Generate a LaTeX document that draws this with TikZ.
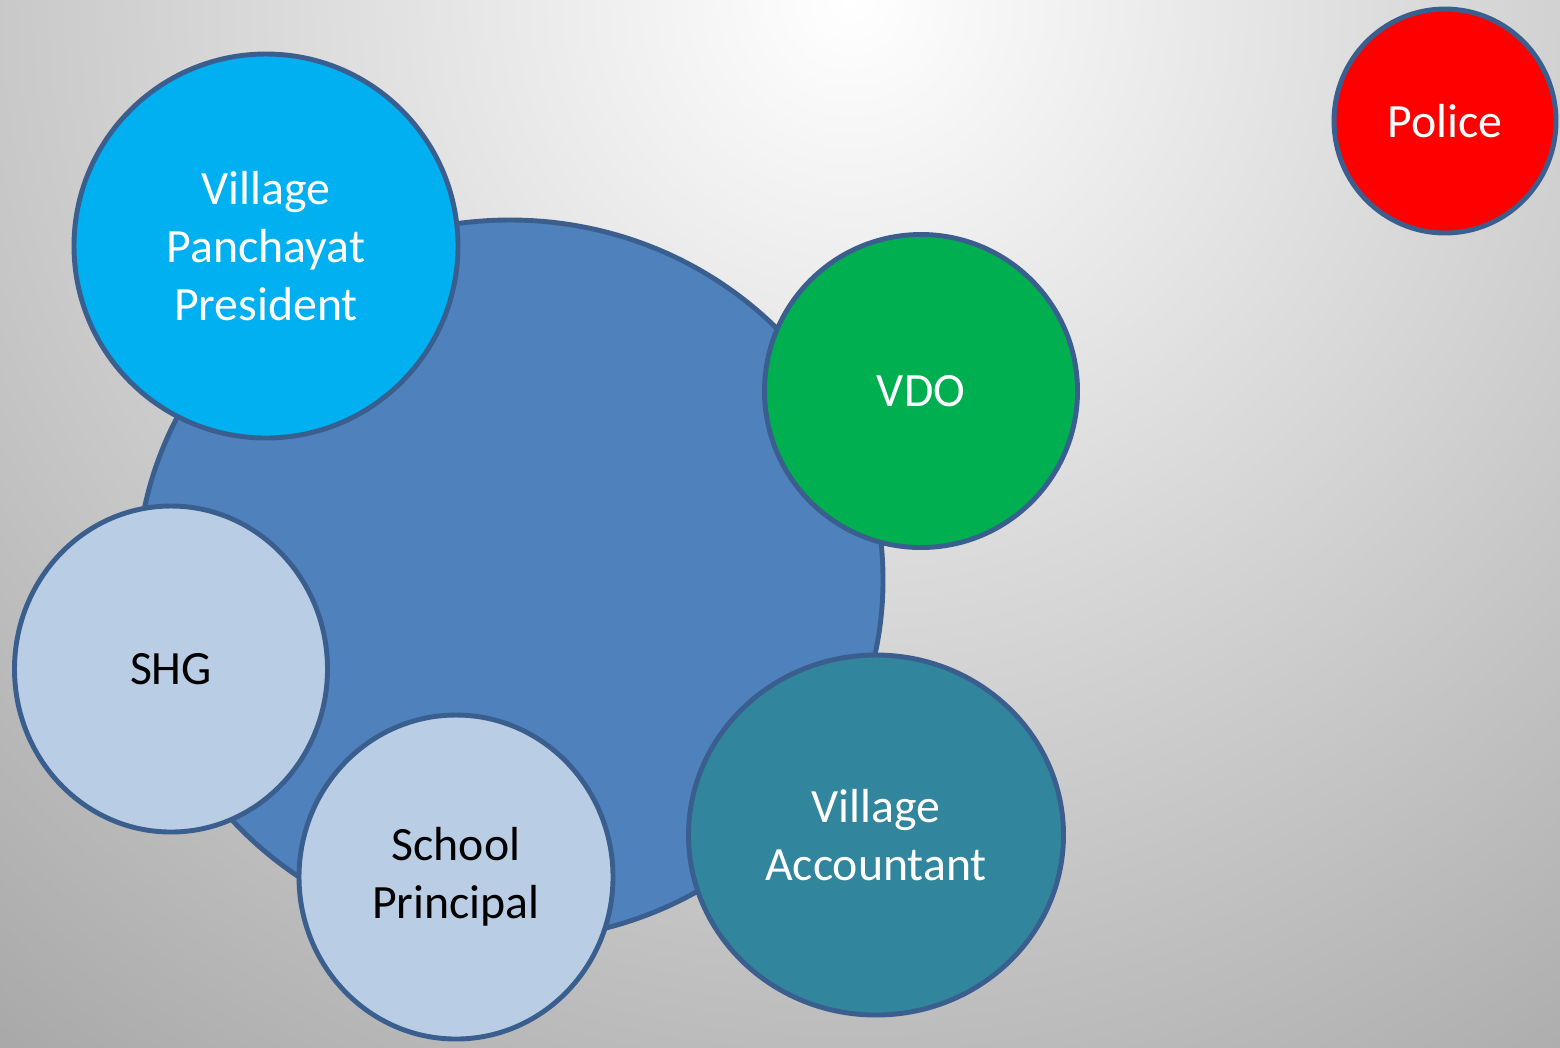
\documentclass[tikz,border=0pt]{standalone}
\usepackage{fontspec}
\setmainfont{Carlito}
\usepackage{xcolor}
\usepackage{tikz}
\usetikzlibrary{shapes.geometric}

\definecolor{coreblue}{HTML}{4F81BD}
\definecolor{ringline}{HTML}{3A5F8E}
\definecolor{skyblue}{HTML}{00B0F0}
\definecolor{leafgreen}{HTML}{00B050}
\definecolor{paleblue}{HTML}{B9CDE5}
\definecolor{tealblue}{HTML}{31859C}

\tikzset{
  bubble/.style={draw=ringline, line width=1.4pt, ellipse, inner sep=0pt, align=center,
    font=\fontsize{13.6}{16.4}\selectfont},
}

\begin{document}
\begin{tikzpicture}
            % Background
            \useasboundingbox (0,0) rectangle (15.6,-10.47);
            \begin{scope}
                \clip (0,0) rectangle (15.6,-10.47);
                \shade[inner color=white, outer color=black!34] (8.5,0) circle (13.5);
            \end{scope}
            % Central circle
            \node[bubble, fill=coreblue, minimum width=7.46cm, minimum height=7.20cm] (role-core) at (5.10, -5.80) {};
            % Define nodes for roles
            \node[bubble, fill=skyblue, text=white, minimum size=3.84cm] (role-president) at (2.66, -2.46) {Village\\Panchayat\\President};
            \node[bubble, fill=leafgreen, text=white, minimum size=3.13cm] (role-vdo) at (9.21, -3.91) {VDO};
            \node[bubble, fill=paleblue, minimum width=3.13cm, minimum height=3.26cm] (role-shg) at (1.71, -6.69) {SHG};
            \node[bubble, fill=paleblue, minimum width=3.14cm, minimum height=3.24cm] (role-school) at (4.56, -8.77) {School\\Principal};
            \node[bubble, fill=tealblue, text=white, minimum width=3.75cm, minimum height=3.60cm] (role-accountant) at (8.76, -8.35) {Village\\Accountant};
            % Outside the group
            \node[bubble, fill=red, text=white, minimum width=2.22cm, minimum height=2.24cm] (role-police) at (14.45, -1.21) {Police};
\end{tikzpicture}
\end{document}
